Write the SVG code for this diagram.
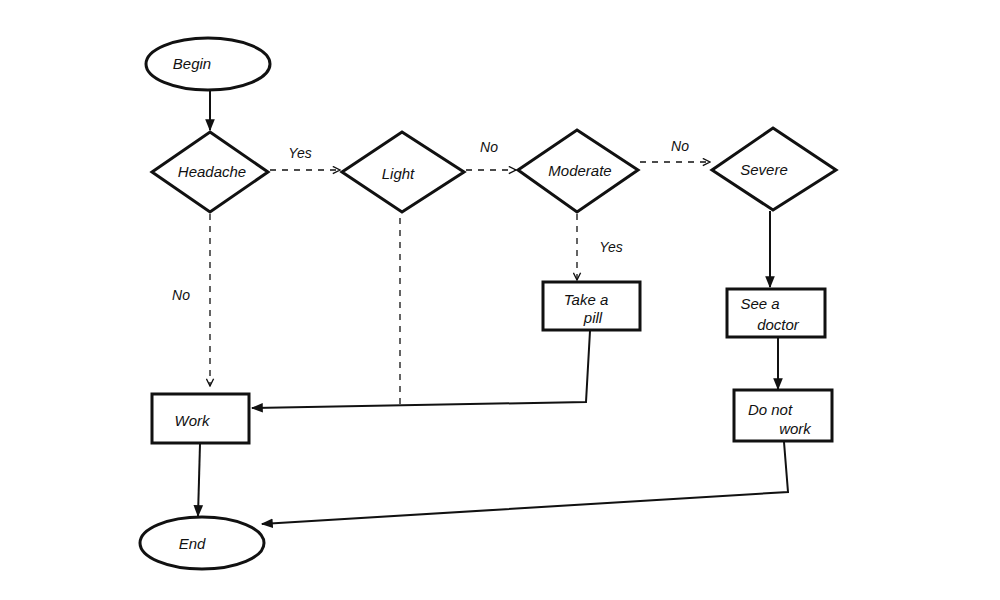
<svg xmlns="http://www.w3.org/2000/svg" width="1000" height="600" viewBox="0 0 1000 600">
<defs>
<marker id="a" viewBox="0 0 10 10" refX="9" refY="5" markerWidth="9" markerHeight="9" orient="auto" markerUnits="userSpaceOnUse"><path d="M1,1 L9,5 L1,9" fill="none" stroke="#111" stroke-width="1.5"/></marker>
<marker id="f" viewBox="0 0 10 10" refX="9" refY="5" markerWidth="12" markerHeight="12" orient="auto" markerUnits="userSpaceOnUse"><path d="M0,1 L10,5 L0,9 Z" fill="#111"/></marker>
</defs>
<style>
.s{fill:#fff;stroke:#111;stroke-width:3}
.t{font-family:"Liberation Sans",sans-serif;font-style:italic;font-size:15px;fill:#111;text-anchor:middle}
.l{font-family:"Liberation Sans",sans-serif;font-style:italic;font-size:14px;fill:#111;text-anchor:middle}
.d{fill:none;stroke:#111;stroke-width:1.3;stroke-dasharray:6 6}
.c{fill:none;stroke:#111;stroke-width:2}
</style>
<rect width="1000" height="600" fill="#fff"/>
<g id="connectors">
<path class="c" d="M210,90 L210,130" marker-end="url(#f)"/>
<path class="d" d="M270,170 L340,170" marker-end="url(#a)"/>
<path class="d" d="M466,170 L516,170" marker-end="url(#a)"/>
<path class="d" d="M640,162 L710,162" marker-end="url(#a)"/>
<path class="d" d="M210,214 L210,386" marker-end="url(#a)"/>
<path class="d" d="M400,218 L400,404"/>
<path class="d" d="M577,214 L577,280" marker-end="url(#a)"/>
<path class="c" d="M590,331 L586,402 L252,408" marker-end="url(#f)"/>
<path class="c" d="M770,211 L770,287" marker-end="url(#f)"/>
<path class="c" d="M778,338 L778,389" marker-end="url(#f)"/>
<path class="c" d="M200,444 L198,516" marker-end="url(#f)"/>
<path class="c" d="M784,442 L788,492 L262,524" marker-end="url(#f)"/>
<text class="l" x="300" y="158">Yes</text>
<text class="l" x="489" y="152">No</text>
<text class="l" x="680" y="151">No</text>
<text class="l" x="181" y="300">No</text>
<text class="l" x="611" y="252">Yes</text>
</g>
<g id="begin"><ellipse class="s" cx="208" cy="64" rx="62" ry="26"/><text class="t" x="192" y="69">Begin</text></g>
<g id="headache"><polygon class="s" points="210,132 268,172 210,212 152,172"/><text class="t" x="212" y="177">Headache</text></g>
<g id="light"><polygon class="s" points="402,132 464,172 402,212 342,172"/><text class="t" x="398" y="179">Light</text></g>
<g id="moderate"><polygon class="s" points="577,130 638,170 577,212 518,170"/><text class="t" x="580" y="176">Moderate</text></g>
<g id="severe"><polygon class="s" points="773,128 836,170 773,210 712,170"/><text class="t" x="764" y="175">Severe</text></g>
<g id="pill"><rect class="s" x="543" y="282" width="97" height="48"/><text class="t" x="586" y="305">Take a</text><text class="t" x="593" y="323" font-size="11">pill</text></g>
<g id="doctor"><rect class="s" x="727" y="289" width="98" height="48"/><text class="t" x="760" y="309">See a</text><text class="t" x="778" y="330">doctor</text></g>
<g id="work"><rect class="s" x="152" y="394" width="97" height="49"/><text class="t" x="192" y="426">Work</text></g>
<g id="notwork"><rect class="s" x="734" y="390" width="98" height="51"/><text class="t" x="770" y="415">Do not</text><text class="t" x="795" y="434" font-size="11">work</text></g>
<g id="end"><ellipse class="s" cx="202" cy="543" rx="62" ry="26"/><text class="t" x="192" y="549">End</text></g>
</svg>
